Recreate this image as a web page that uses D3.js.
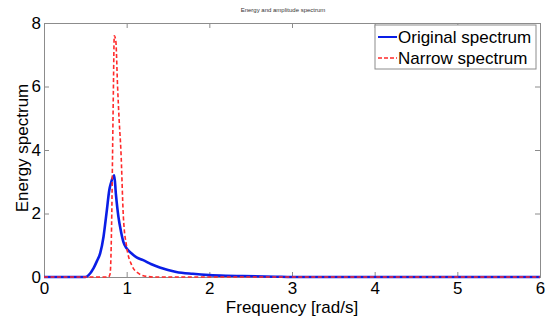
<!DOCTYPE html>
<html>
<head>
<meta charset="utf-8">
<script src="https://cdn.jsdelivr.net/npm/d3@7"></script>
<style>
  body { margin: 0; background: #fff; }
  text { font-family: Arial, "Liberation Sans", sans-serif; }
</style>
</head>
<body>
<div id="chart"></div>
<script>
// original spectrum (blue)
var origFreq = [0, 0.5, 0.54, 0.60, 0.64, 0.68, 0.72, 0.76, 0.79, 0.81, 0.85, 0.87, 0.90, 0.93, 0.96, 1.0, 1.06, 1.12, 1.2, 1.3, 1.4, 1.5, 1.6, 1.8, 2.0, 2.2, 2.4, 2.8, 3.0, 6.0];
var origVal  = [0, 0, 0.06, 0.28, 0.5, 0.75, 1.27, 2.1, 2.74, 2.96, 3.2, 2.6, 1.9, 1.45, 1.11, 0.9, 0.74, 0.62, 0.53, 0.4, 0.3, 0.22, 0.16, 0.1, 0.06, 0.04, 0.03, 0.01, 0, 0];
// narrow spectrum (red dashed)
var narrFreq = [0, 0.78, 0.80, 0.82, 0.83, 0.84, 0.85, 0.86, 0.87, 0.89, 0.91, 0.93, 0.96, 1.0, 1.06, 1.14, 1.24, 1.35, 6.0];
var narrVal  = [0, 0, 0.1, 2.0, 4.0, 6.0, 7.6, 7.55, 7.4, 6.0, 4.9, 4.0, 1.9, 0.95, 0.38, 0.12, 0.02, 0, 0];

var xTicks = [0, 1, 2, 3, 4, 5, 6];
var yTicks = [0, 2, 4, 6, 8];
var legendLabels = ["Original spectrum", "Narrow spectrum"];

var margin = { left: 44, right: 9, top: 23, bottom: 41 };
var W = 549, H = 318;
var width = W - margin.left - margin.right;
var height = H - margin.top - margin.bottom;

var svg = d3.select("#chart").append("svg")
  .attr("width", W)
  .attr("height", H);

var g = svg.append("g")
  .attr("transform", "translate(" + margin.left + "," + margin.top + ")");

var x = d3.scaleLinear().domain([0, 6]).range([0, width]);
var y = d3.scaleLinear().domain([0, 8]).range([height, 0]);

var axisColor = "#8c8c8c";

// bottom axis
var xAxis = g.append("g")
  .attr("transform", "translate(0," + height + ")")
  .call(d3.axisBottom(x).tickValues(xTicks).tickSize(-5).tickPadding(5).tickFormat(d3.format("d")));
// left axis
var yAxis = g.append("g")
  .call(d3.axisLeft(y).tickValues(yTicks).tickSize(-5).tickPadding(3).tickFormat(d3.format("d")));
// top and right axes (ticks only)
var xTop = g.append("g")
  .call(d3.axisTop(x).tickValues(xTicks).tickSize(-5).tickFormat(""));
var yRight = g.append("g")
  .attr("transform", "translate(" + width + ",0)")
  .call(d3.axisRight(y).tickValues(yTicks).tickSize(-5).tickFormat(""));

[xAxis, yAxis, xTop, yRight].forEach(function(a) {
  a.selectAll("path, line").attr("stroke", axisColor);
  a.selectAll("text").attr("fill", "#000").style("font-size", "17px");
});

var line = d3.line()
  .x(function(d) { return x(d[0]); })
  .y(function(d) { return y(d[1]); })
  .curve(d3.curveMonotoneX);

var origData = origFreq.map(function(f, i) { return [f, origVal[i]]; });
var narrData = narrFreq.map(function(f, i) { return [f, narrVal[i]]; });

g.append("path")
  .datum(origData)
  .attr("d", line)
  .attr("fill", "none")
  .attr("stroke", "#0a1ee6")
  .attr("stroke-width", 2.6)
  .attr("stroke-linejoin", "round");

g.append("path")
  .datum(narrData)
  .attr("d", line)
  .attr("fill", "none")
  .attr("stroke", "#ff2a2a")
  .attr("stroke-width", 1.6)
  .attr("stroke-dasharray", "4,2.5");

// title
svg.append("text")
  .attr("x", 283).attr("y", 12)
  .attr("text-anchor", "middle")
  .style("font-size", "6px")
  .attr("fill", "#333")
  .text("Energy and amplitude spectrum");

// axis labels
svg.append("text")
  .attr("x", margin.left + width / 2).attr("y", 313)
  .attr("text-anchor", "middle")
  .style("font-size", "17px")
  .text("Frequency [rad/s]");

svg.append("text")
  .attr("transform", "translate(28,148) rotate(-90)")
  .attr("text-anchor", "middle")
  .style("font-size", "17px")
  .text("Energy spectrum");

// legend
var leg = svg.append("g").attr("transform", "translate(375,25)");
leg.append("rect")
  .attr("width", 161).attr("height", 44)
  .attr("fill", "#fff")
  .attr("stroke", axisColor);

var legColors = ["#0a1ee6", "#ff2a2a"];
legendLabels.forEach(function(lbl, i) {
  var yy = 12 + i * 21;
  leg.append("line")
    .attr("x1", 3).attr("x2", 22)
    .attr("y1", yy).attr("y2", yy)
    .attr("stroke", legColors[i])
    .attr("stroke-width", i === 0 ? 2 : 1.4)
    .attr("stroke-dasharray", i === 0 ? null : "4,2");
  leg.append("text")
    .attr("x", 23).attr("y", yy + 6)
    .style("font-size", "17px")
    .text(lbl);
});
</script>
</body>
</html>
